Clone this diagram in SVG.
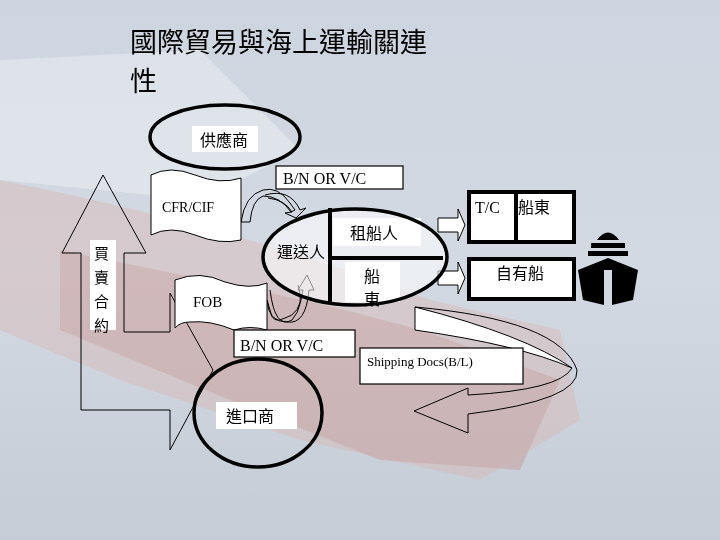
<svg xmlns="http://www.w3.org/2000/svg" width="720" height="540" viewBox="0 0 720 540">
<defs>
<linearGradient id="bg" x1="0" y1="0" x2="0" y2="1"><stop offset="0" stop-color="#cdd5e0"/><stop offset="0.5" stop-color="#d3d9e2"/><stop offset="1" stop-color="#c4ccd6"/></linearGradient>
<style>
.cjk{font-family:"Noto Sans CJK TC","Noto Sans CJK SC",sans-serif;fill:#000}
.lat{font-family:"Liberation Serif",serif;fill:#000}
.lbl{fill:#fff;stroke:none}
.box{fill:#fff;stroke:#000;stroke-width:1.2}
.ell{fill:none;stroke:#000;stroke-width:3.5}
.ln{fill:none;stroke:#000;stroke-width:1}
.lnw{fill:#fff;stroke:#000;stroke-width:1}
</style>
</defs>
<rect width="720" height="540" fill="url(#bg)"/>
<g opacity="0.4">
<path d="M0 180 C150 210 300 250 430 300 L560 330 L580 420 L480 480 L300 440 L120 380 L0 330 Z" fill="#dab5ae"/>
<path d="M60 250 C200 280 330 300 450 340 L560 380 L520 470 L380 460 L230 400 L60 330 Z" fill="#c9786c" opacity="0.7"/>
<path d="M0 60 L200 50 L300 150 L200 200 L0 180 Z" fill="#f4f5f7"/>
</g>
<g id="title">
<text class="cjk" x="130" y="52" font-size="27">國際貿易與海上運輸關連</text>
<text class="cjk" x="130" y="91" font-size="27">性</text>
</g>
<g id="connectors">
<path class="ln" d="M103 175 L146 253 L124 253 L124 332 L170 332 L170 293 L213 370 L170 450 L170 410 L81 410 L81 253 L62 253 Z"/>
<path class="ln" d="M241 222 Q245 195 263 190 Q278 186 290 203 L295 210 L291 212 Q280 196 263 196 Q252 200 250 222 Z"/>
<path class="ln" d="M265 195 Q290 188 300 210 L306 208 L296 218 L285 213 L292 212 Q285 200 268 198"/>
<path class="ln" d="M267 300 L270 310 Q272 325 285 318 Q300 315 303 290 L298 290 L307 275 L314 290 L309 290 Q306 325 287 322 Q268 322 267 300"/>
<path class="ln" d="M270 290 Q275 330 292 320 Q305 305 298 285"/>
<path class="lnw" d="M438 218 L458 218 L458 209 L465 225 L458 241 L458 232 L438 232 Z"/>
<path class="lnw" d="M438 271 L458 271 L458 262 L465 278 L458 294 L458 285 L438 285 Z"/>
<path class="lnw" d="M415 307 L415 330 Q520 345 572 368 Q525 335 415 307 Z"/>
<path class="ln" d="M415 307 Q560 320 577 370 Q580 400 468 414 L468 433 L414 411 L468 388 L468 395 Q560 390 572 368"/>
</g>
<g id="n-supplier">
<ellipse class="ell" cx="225" cy="137" rx="75" ry="32"/>
<rect class="lbl" x="192" y="126" width="66" height="26"/>
<text class="cjk" x="200" y="146" font-size="16">供應商</text>
</g>
<g id="n-bnvc1"><rect class="box" x="276" y="166" width="127" height="23"/><text class="lat" x="283" y="184" font-size="16">B/N OR V/C</text></g>
<g id="n-cfr">
<path class="lnw" d="M151 175 Q170 165 195 175 Q220 185 241 178 L241 240 Q220 245 195 235 Q170 225 151 235 Z"/>
<rect class="lbl" x="157" y="195" width="76" height="22"/>
<text class="lat" x="162" y="212" font-size="14">CFR/CIF</text>
</g>
<g id="n-contract">
<rect class="lbl" x="90" y="240" width="26" height="90"/>
<text class="cjk" x="94" y="259" font-size="15">買</text>
<text class="cjk" x="94" y="283" font-size="15">賣</text>
<text class="cjk" x="94" y="307" font-size="15">合</text>
<text class="cjk" x="94" y="331" font-size="15">約</text>
</g>
<g id="n-fob">
<path class="lnw" d="M175 280 Q200 270 225 282 Q250 290 267 283 L267 330 Q250 325 234 330 Q210 320 190 322 Q180 322 175 328 Z"/>
<rect class="lbl" x="186" y="287" width="66" height="27"/>
<text class="lat" x="193" y="307" font-size="15">FOB</text>
</g>
<g id="n-bnvc2"><rect class="box" x="234" y="330" width="121" height="27"/><text class="lat" x="240" y="351" font-size="16">B/N OR V/C</text></g>
<g id="n-importer">
<ellipse class="ell" cx="258" cy="413" rx="64" ry="54"/>
<rect class="lbl" x="216" y="402" width="81" height="27"/>
<text class="cjk" x="226" y="422" font-size="16">進口商</text>
</g>
<g id="n-carrier">
<ellipse cx="355" cy="257" rx="92" ry="48" fill="#fff" fill-opacity="0.55" stroke="none"/>
<rect class="lbl" x="333" y="218" width="88" height="28"/>
<rect class="lbl" x="345" y="262" width="55" height="40"/>
<ellipse class="ell" cx="355" cy="257" rx="92" ry="48"/>
<line x1="330" y1="208" x2="330" y2="303" stroke="#000" stroke-width="4"/>
<line x1="330" y1="258" x2="443" y2="258" stroke="#000" stroke-width="4"/>
<text class="cjk" x="277" y="258" font-size="16">運送人</text>
<text class="cjk" x="350" y="239" font-size="16">租船人</text>
<text class="cjk" x="364" y="282" font-size="16">船</text>
<text class="cjk" x="364" y="305" font-size="16">東</text>
</g>
<g id="n-tc">
<rect x="469" y="192" width="105" height="50" fill="#fff" stroke="#000" stroke-width="4"/>
<line x1="516" y1="192" x2="516" y2="242" stroke="#000" stroke-width="4"/>
<text class="lat" x="475" y="213" font-size="16">T/C</text>
<text class="cjk" x="518" y="213" font-size="16">船東</text>
</g>
<g id="n-own">
<rect x="469" y="259" width="105" height="40" fill="#fff" stroke="#000" stroke-width="4"/>
<text class="cjk" x="496" y="279" font-size="16">自有船</text>
</g>
<g id="ship">
<path d="M597 240 Q608 225 619 240 Z" fill="#000"/>
<rect x="591" y="243" width="34" height="5" fill="#000"/>
<rect x="588" y="251" width="40" height="5" fill="#000"/>
<path d="M583 300 L578 270 L608 258 L638 270 L633 300 L612 305 L612 270 L604 270 L604 305 Z" fill="#000"/>
</g>
<g id="n-docs"><rect class="box" x="360" y="348" width="163" height="36"/><text class="lat" x="367" y="366" font-size="13">Shipping Docs(B/L)</text></g>
</svg>
